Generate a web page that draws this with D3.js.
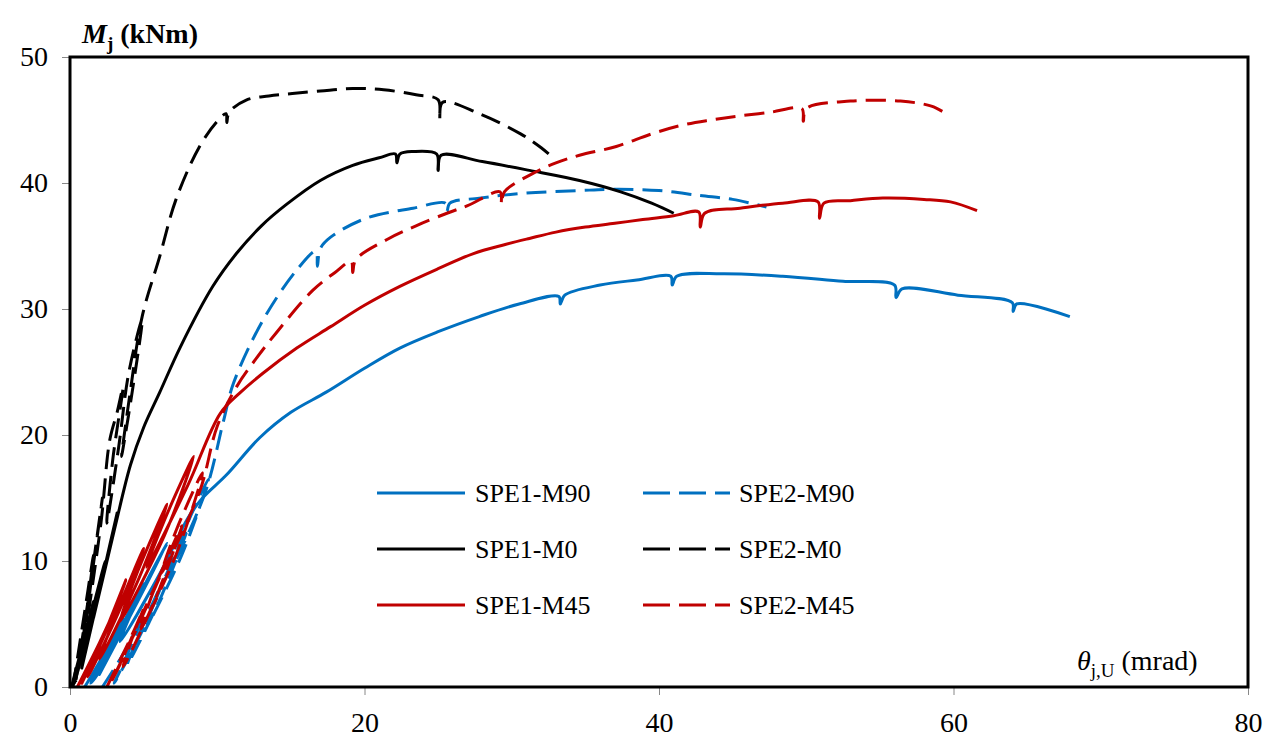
<!DOCTYPE html>
<html>
<head>
<meta charset="utf-8">
<script src="https://cdn.jsdelivr.net/npm/d3@7"></script>
<style>
  html, body { margin: 0; padding: 0; background: #fff; }
  svg text { font-family: "Liberation Serif", "Times New Roman", serif; }
</style>
</head>
<body>
<svg id="chart" width="1270" height="740"></svg>
<script>
// ---------- data (theta_j,U in mrad, M_j in kNm) ----------
const xTicks = [0, 20, 40, 60, 80];
const yTicks = [0, 10, 20, 30, 40, 50];

const spe1M90 = [[1.0,0],[2.6,3.2],[3.6,5.4],[2.2,1.6],[1.4,0.3],[3.4,4.6],[5.0,8.2],[3.2,3.8],[2.0,1.0],
  [4.6,6.8],[6.6,11.4],[4.6,7.0],[3.4,3.6],[6.2,9.2],[8.0,13.4],[9.0,15.0],
  [10.6,16.8],[12.9,19.8],[15,21.8],[17.4,23.4],[20,25.3],[22.4,26.9],[25,28.2],[27.8,29.4],[30.5,30.4],
  [33.2,31.0],[33.3,30.4],[33.6,31.1],[36,31.9],[38.5,32.3],[40.8,32.6],[40.9,31.9],[41.2,32.6],[44.3,32.8],
  [48.4,32.6],[52.5,32.2],[56.0,31.9],[56.1,30.9],[56.5,31.6],[60.3,31.1],[64.0,30.5],[64.05,29.8],[64.3,30.4],[67.9,29.4]];

const spe2M90 = [[2.2,0],[3.8,3.0],[5.0,5.8],[3.6,1.8],[3.0,0.3],[4.8,4.2],[6.4,8.6],[4.8,4.5],[3.9,1.8],
  [6.2,7.2],[8.0,12.6],[6.2,8.0],[5.2,4.8],[7.6,10.5],[9.4,16.5],[7.8,12.5],[6.8,9.2],[9.2,15.5],
  [10.4,21.0],[11.1,24.1],[13.1,29.1],
  [15.4,33.1],[16.7,34.6],[16.8,33.4],[17.0,34.8],[17.7,35.7],[20.1,37.2],[23.3,38.0],[25.5,38.4],[25.6,37.7],
  [25.8,38.4],[27.8,38.8],[31,39.2],[34.6,39.4],[37.1,39.5],[40,39.4],[42.8,39.0],[45,38.7],[47.3,38.1]];

const spe1M0 = [[0.1,0],[0.9,3.6],[1.6,6.8],[0.8,2.5],[0.3,0.3],[1.5,6.0],[2.4,10.0],[1.5,5.2],[0.8,1.5],
  [2.2,8.6],[3.2,13.8],[2.3,9.2],[1.6,5.5],[3.0,12.4],[4.1,17.6],[5.0,20.6],[6.1,23.4],[7.5,27.0],[9.7,31.8],
  [11.3,34.4],[13,36.6],[14.7,38.3],[17,40.2],[19.2,41.4],[21,42.0],[22.1,42.3],[22.2,41.6],[22.4,42.3],
  [23.3,42.5],[24.9,42.3],[25.0,41.0],[25.2,42.2],[28,41.7],[31.2,41.0],[34.6,40.2],[37.4,39.3],[39.5,38.4],[41.0,37.6]];

const spe2M0 = [[0.2,0],[1.0,6],[1.6,10.5],[0.9,4],[0.4,0.5],[1.5,9],[2.2,15],[1.5,9],[1.0,4],[2.1,13],
  [2.7,19.6],[3.2,21.8],[3.6,23.8],[2.9,18],[2.5,13],[3.3,19],[4.0,25],[4.9,29.2],[4.3,24],[3.5,18.3],
  [4.1,23.5],[4.9,29.4],[6.1,34.2],[7.2,38.7],[8.8,42.9],[10.0,44.9],[10.6,45.5],[10.65,44.8],[10.8,45.6],
  [12.0,46.6],[13.5,46.9],[15.1,47.1],[17,47.3],[19.2,47.5],[21.3,47.4],[23.5,47.0],[25.0,46.6],[25.1,45.0],
  [25.3,46.4],[27.8,45.5],[30.6,43.9],[32.0,42.8],[32.9,41.9]];

const spe1M45 = [[0.5,0],[2.0,3.5],[3.0,6],[1.4,1.8],[0.8,0.3],[2.6,4.8],[3.8,8.5],[2.2,3.8],[1.2,0.8],
  [3.4,6.2],[5.0,11],[3.2,6.0],[2.0,2.2],[4.6,8.4],[6.6,14.5],[4.6,9.2],[3.4,5.2],[6.4,12],[8.4,18.3],
  [6.4,13.2],[5.2,9.5],[8.0,16],[10.2,21.7],[11.5,23.3],[13.1,24.9],[15.4,26.9],[17.7,28.6],[20,30.3],
  [22.4,31.8],[25,33.2],[27.4,34.4],[29.5,35.1],[31.2,35.6],[33,36.1],[35,36.5],[37,36.8],[38.9,37.1],
  [41,37.4],[42.7,37.7],[42.8,36.5],[43.1,37.6],[45.5,38.0],[48.4,38.4],[50.8,38.5],[50.9,37.2],[51.2,38.4],
  [53,38.6],[55.2,38.8],[58,38.7],[59.8,38.5],[61.6,37.8]];

const spe2M45 = [[2.5,0],[4.0,3.6],[5.0,6.2],[3.4,1.8],[2.8,0.4],[4.6,4.8],[6.2,9],[4.4,4.4],[3.6,1.6],
  [5.8,7.0],[7.6,12.8],[5.8,8.0],[4.8,4.6],[7.2,10.5],[9.0,17.0],[7.2,12.4],[6.2,9.0],[8.8,15.5],
  [10.0,20.7],[11.3,23.8],[12.6,26],[14.0,28.1],
  [16.5,31.5],[18,32.9],[19.1,33.8],[19.2,32.9],[19.4,33.9],[21.5,35.5],[23.5,36.6],[25.6,37.6],[27,38.2],
  [29.2,39.3],[29.3,38.3],[29.5,39.3],[31.5,40.8],[33,41.6],[34.6,42.2],[37.1,42.9],[39.5,43.9],[41.6,44.6],
  [43.5,45.0],[45.3,45.3],[47.5,45.6],[49.7,45.9],[49.8,44.9],[50.0,45.9],[53.0,46.5],[56.4,46.5],[58.5,46.1],[59.5,45.5]];

const seriesNames = ["SPE1-M90", "SPE2-M90", "SPE1-M0", "SPE2-M0", "SPE1-M45", "SPE2-M45"];
const seriesData = [spe1M90, spe2M90, spe1M0, spe2M0, spe1M45, spe2M45];

// ---------- styles ----------
const BLUE = "#0070C0", BLACK = "#000000", RED = "#C00000";
const styles = [
  {color: BLUE, dash: null}, {color: BLUE, dash: "20,9"},
  {color: BLACK, dash: null}, {color: BLACK, dash: "20,9"},
  {color: RED, dash: null}, {color: RED, dash: "20,9"}
];

const svg = d3.select("#chart");
const L = 70, R = 1248, T = 57, B = 687;
const x = d3.scaleLinear().domain([0, 80]).range([L, R]);
const y = d3.scaleLinear().domain([0, 50]).range([B, T]);

// ticks
const xAxis = svg.append("g").attr("transform", `translate(0,${B})`)
  .call(d3.axisBottom(x).tickValues(xTicks).tickSize(8).tickPadding(10).tickFormat(d3.format("d")));
const yAxis = svg.append("g").attr("transform", `translate(${L},0)`)
  .call(d3.axisLeft(y).tickValues(yTicks).tickSize(8).tickPadding(14).tickFormat(d3.format("d")));
[xAxis, yAxis].forEach(a => {
  a.select(".domain").remove();
  a.selectAll(".tick line").attr("stroke", "#888").attr("stroke-width", 1);
  a.selectAll(".tick text").attr("fill", "#000").style("font-size", "28px")
    .style("font-family", "'Liberation Serif', serif");
});
xAxis.selectAll(".tick text").attr("dy", "0.95em");

// lines
const line = d3.line().x(d => x(d[0])).y(d => y(d[1])).curve(d3.curveCatmullRom.alpha(0.5));
const g = svg.append("g");
seriesData.forEach((data, i) => {
  g.append("path").datum(data)
    .attr("d", line)
    .attr("fill", "none")
    .attr("stroke", styles[i].color)
    .attr("stroke-width", 3)
    .attr("stroke-linejoin", "round")
    .attr("stroke-linecap", "butt")
    .attr("stroke-dasharray", styles[i].dash);
});

// frame
svg.append("rect").attr("x", L).attr("y", T).attr("width", R - L).attr("height", B - T)
  .attr("fill", "none").attr("stroke", "#000").attr("stroke-width", 3);

// axis titles
const yt = svg.append("text").attr("x", 82).attr("y", 43).style("font-size", "28px").style("font-weight", "bold");
yt.append("tspan").style("font-style", "italic").text("M");
yt.append("tspan").attr("dy", 7).style("font-size", "19px").text("j");
yt.append("tspan").attr("dy", -7).text(" (kNm)");

const xt = svg.append("text").attr("x", 1077).attr("y", 670).style("font-size", "28px");
xt.append("tspan").style("font-style", "italic").text("θ");
xt.append("tspan").attr("dy", 7).style("font-size", "19px").text("j,U");
xt.append("tspan").attr("dy", -7).text(" (mrad)");

// legend
const legRows = [493, 549, 605];
const legCols = [{x1: 377, x2: 465, tx: 475}, {x1: 643, x2: 730, tx: 739}];
seriesNames.forEach((name, i) => {
  const row = Math.floor(i / 2), col = i % 2;
  const c = legCols[col], yy = legRows[row];
  svg.append("line").attr("x1", c.x1).attr("x2", c.x2).attr("y1", yy).attr("y2", yy)
    .attr("stroke", styles[i].color).attr("stroke-width", 3)
    .attr("stroke-dasharray", styles[i].dash ? "27,9" : null);
  svg.append("text").attr("x", c.tx).attr("y", yy).attr("dy", "0.35em")
    .style("font-size", "26px").text(name);
});
</script>
</body>
</html>
